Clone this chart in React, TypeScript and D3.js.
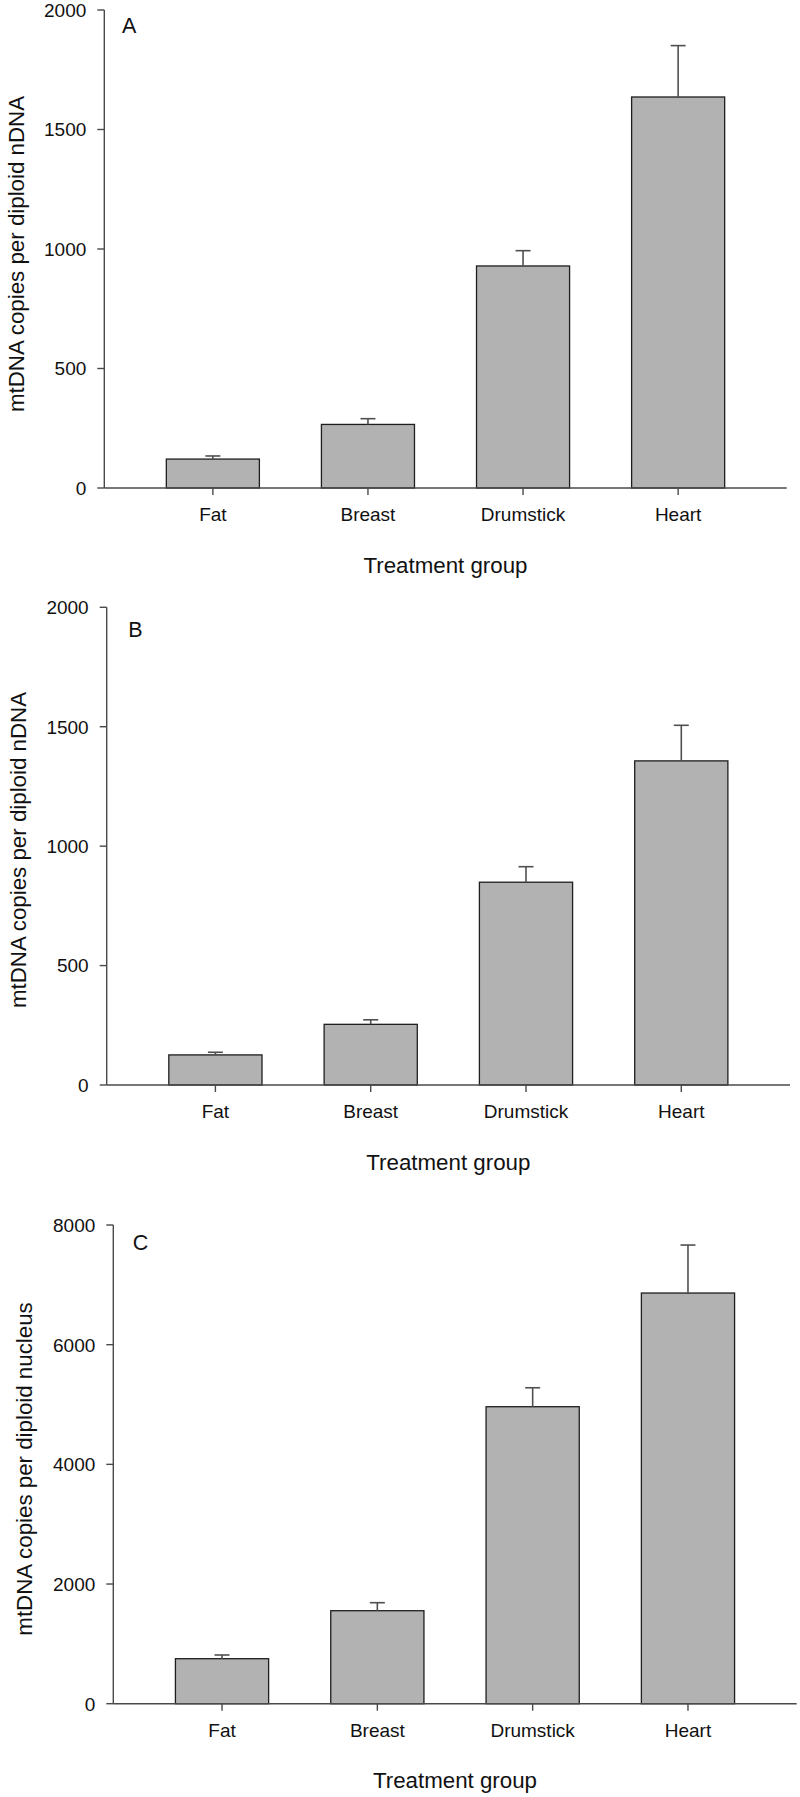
import React from "react";
import * as d3 from "d3";

const categories = ["Fat", "Breast", "Drumstick", "Heart"];

const meansA = [121, 266, 929, 1636];
const errorsA = [13, 24, 64, 215];
const meansB = [126, 254, 849, 1357];
const errorsB = [11, 19, 65, 149];
const meansC = [752, 1554, 4963, 6863];
const errorsC = [62, 134, 317, 802];

const ticksAB = [0, 500, 1000, 1500, 2000];
const ticksC = [0, 2000, 4000, 6000, 8000];

const yTitleAB = "mtDNA copies per diploid nDNA";
const yTitleC = "mtDNA copies per diploid nucleus";
const xTitle = "Treatment group";

const FONT = "'Liberation Sans', Arial, Helvetica, sans-serif";

type Panel = {
  letter: string;
  means: number[];
  errors: number[];
  ticks: number[];
  yMax: number;
  yTitle: string;
  x0: number; x1: number; yTop: number; yBot: number;
  letterX: number; letterY: number;
  yTitleX: number; yTitleY: number;
  catY: number; xTitleY: number;
};

const panels: Panel[] = [
  {
    letter: "A", means: meansA, errors: errorsA, ticks: ticksAB, yMax: 2000, yTitle: yTitleAB,
    x0: 104.3, x1: 786.7, yTop: 10, yBot: 488,
    letterX: 122, letterY: 33.3, yTitleX: 23.5, yTitleY: 254, catY: 521, xTitleY: 573,
  },
  {
    letter: "B", means: meansB, errors: errorsB, ticks: ticksAB, yMax: 2000, yTitle: yTitleAB,
    x0: 106.7, x1: 790, yTop: 607.3, yBot: 1085,
    letterX: 128.3, letterY: 637.3, yTitleX: 26, yTitleY: 850, catY: 1118.3, xTitleY: 1170,
  },
  {
    letter: "C", means: meansC, errors: errorsC, ticks: ticksC, yMax: 8000, yTitle: yTitleC,
    x0: 113.3, x1: 796.7, yTop: 1225, yBot: 1703.7,
    letterX: 132.7, letterY: 1250, yTitleX: 31.7, yTitleY: 1469, catY: 1737.3, xTitleY: 1788.3,
  },
];

function PanelChart({ p }: { p: Panel }) {
  const x = d3.scaleBand<string>().domain(categories).range([p.x0, p.x1]).paddingInner(0.4).paddingOuter(0.4);
  const y = d3.scaleLinear().domain([0, p.yMax]).range([p.yBot, p.yTop]);
  const axisColor = "#4a4a4a";
  const capHalf = 7.5;
  return (
    <g>
      {categories.map((c, i) => {
        const bx = x(c)!;
        const top = y(p.means[i]);
        return (
          <rect key={"bar" + c} x={bx} y={top} width={x.bandwidth()} height={y(0) - top}
            fill="#b2b2b2" stroke="#1e1e1e" strokeWidth={1.3} />
        );
      })}
      {categories.map((c, i) => {
        const cx = x(c)! + x.bandwidth() / 2;
        const top = y(p.means[i]);
        const et = y(p.means[i] + p.errors[i]);
        return (
          <g key={"err" + c} stroke="#505050" strokeWidth={1.6}>
            <line x1={cx} x2={cx} y1={top} y2={et} />
            <line x1={cx - capHalf} x2={cx + capHalf} y1={et} y2={et} />
          </g>
        );
      })}
      <line x1={p.x0} x2={p.x0} y1={p.yTop} y2={p.yBot} stroke={axisColor} strokeWidth={1.4} />
      {p.ticks.map((t) => (
        <g key={"yt" + t}>
          <line x1={p.x0 - 7} x2={p.x0} y1={y(t)} y2={y(t)} stroke={axisColor} strokeWidth={1.4} />
          <text x={p.x0 - 18} y={y(t)} dy="0.36em" textAnchor="end" fontSize={19} fontFamily={FONT} fill="#111">
            {t}
          </text>
        </g>
      ))}
      <line x1={p.x0} x2={p.x1} y1={p.yBot} y2={p.yBot} stroke={axisColor} strokeWidth={1.4} />
      {categories.map((c) => {
        const cx = x(c)! + x.bandwidth() / 2;
        return (
          <g key={"xt" + c}>
            <line x1={cx} x2={cx} y1={p.yBot} y2={p.yBot + 7} stroke={axisColor} strokeWidth={1.4} />
            <text x={cx} y={p.catY} textAnchor="middle" fontSize={19} fontFamily={FONT} fill="#111">
              {c}
            </text>
          </g>
        );
      })}
      <text x={(p.x0 + p.x1) / 2} y={p.xTitleY} textAnchor="middle" fontSize={22.3} fontFamily={FONT} fill="#111">
        {xTitle}
      </text>
      <text transform={`translate(${p.yTitleX},${p.yTitleY}) rotate(-90)`} textAnchor="middle" fontSize={22.3}
        fontFamily={FONT} fill="#111">
        {p.yTitle}
      </text>
      <text x={p.letterX} y={p.letterY} fontSize={21.5} fontFamily={FONT} fill="#111">
        {p.letter}
      </text>
    </g>
  );
}

export default function App() {
  return (
    <svg width={800} height={1797} viewBox="0 0 800 1797"
      style={{ position: "absolute", left: 0, top: 0, display: "block", background: "#fff" }}>
      <rect x={0} y={0} width={800} height={1797} fill="#fff" />
      {panels.map((p) => (
        <PanelChart key={p.letter} p={p} />
      ))}
    </svg>
  );
}
